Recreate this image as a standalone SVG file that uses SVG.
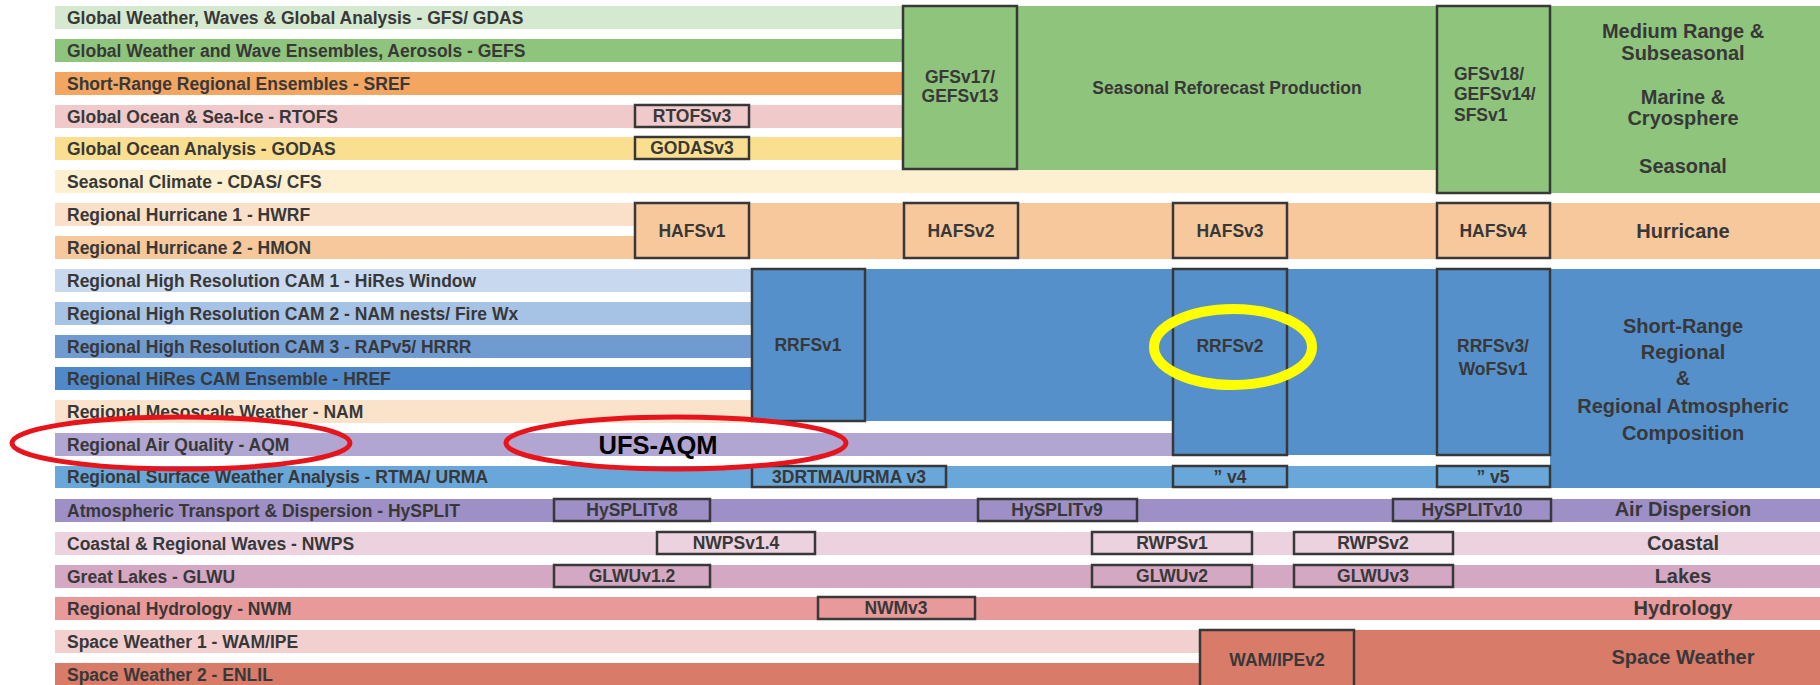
<svg xmlns="http://www.w3.org/2000/svg" width="1820" height="685" viewBox="0 0 1820 685">
<style>
  .lbl{font-family:"Liberation Sans",Arial,sans-serif;font-weight:bold;font-size:17.5px;fill:#383838}
  .box{stroke:#383838;stroke-width:2.5}
  .bt{font-family:"Liberation Sans",Arial,sans-serif;font-weight:bold;font-size:17.5px;fill:#383838;text-anchor:middle}
  .bl{font-family:"Liberation Sans",Arial,sans-serif;font-weight:bold;font-size:17.5px;fill:#383838;text-anchor:start}
  .cat{font-family:"Liberation Sans",Arial,sans-serif;font-weight:bold;font-size:20px;fill:#383838;text-anchor:middle}
  .red{fill:none;stroke:#e8141c;stroke-width:5}
</style>
<rect width="1820" height="685" fill="#ffffff"/>

<!-- Row bands -->
<g id="rows">
  <g id="row-gfs"><rect x="55" y="6" width="848" height="23" fill="#d5e8d0"/><text class="lbl" x="67" y="24">Global Weather, Waves &amp; Global Analysis - GFS/ GDAS</text></g>
  <g id="row-gefs"><rect x="55" y="39" width="848" height="23" fill="#8fc47d"/><text class="lbl" x="67" y="57">Global Weather and Wave Ensembles, Aerosols - GEFS</text></g>
  <g id="row-sref"><rect x="55" y="72" width="848" height="23" fill="#f3a661"/><text class="lbl" x="67" y="90">Short-Range Regional Ensembles - SREF</text></g>
  <g id="row-rtofs"><rect x="55" y="105" width="848" height="23" fill="#f0c9cb"/><text class="lbl" x="67" y="123">Global Ocean &amp; Sea-Ice - RTOFS</text></g>
  <g id="row-godas"><rect x="55" y="137" width="848" height="23" fill="#fbdf90"/><text class="lbl" x="67" y="155">Global Ocean Analysis - GODAS</text></g>
  <g id="row-cfs"><rect x="55" y="170" width="1382" height="23" fill="#fdf0d0"/><text class="lbl" x="67" y="188">Seasonal Climate - CDAS/ CFS</text></g>
  <g id="row-hwrf"><rect x="55" y="203" width="580" height="23" fill="#fae0c8"/><text class="lbl" x="67" y="221">Regional Hurricane 1 - HWRF</text></g>
  <g id="row-hmon"><rect x="55" y="236" width="580" height="23" fill="#f6c89c"/><text class="lbl" x="67" y="254">Regional Hurricane 2 - HMON</text></g>
  <g id="row-cam1"><rect x="55" y="269" width="697" height="23" fill="#c8d9ef"/><text class="lbl" x="67" y="287">Regional High Resolution CAM 1 - HiRes Window</text></g>
  <g id="row-cam2"><rect x="55" y="302" width="697" height="23" fill="#a6c2e5"/><text class="lbl" x="67" y="320">Regional High Resolution CAM 2 - NAM nests/ Fire Wx</text></g>
  <g id="row-cam3"><rect x="55" y="335" width="697" height="23" fill="#6f9bd1"/><text class="lbl" x="67" y="353">Regional High Resolution CAM 3 - RAPv5/ HRRR</text></g>
  <g id="row-href"><rect x="55" y="367" width="697" height="23" fill="#4f89c9"/><text class="lbl" x="67" y="385">Regional HiRes CAM Ensemble - HREF</text></g>
  <g id="row-nam"><rect x="55" y="400" width="697" height="23" fill="#fae2cb"/><text class="lbl" x="67" y="418">Regional Mesoscale Weather - NAM</text></g>
  <g id="row-aqm"><rect x="55" y="433" width="1118" height="23" fill="#b0a6d1"/><text class="lbl" x="67" y="451">Regional Air Quality - AQM</text></g>
  <g id="row-rtma"><rect x="55" y="466" width="1495" height="22" fill="#69a7da"/><text class="lbl" x="67" y="483">Regional Surface Weather Analysis - RTMA/ URMA</text></g>
  <g id="row-hysplit"><rect x="55" y="499" width="1765" height="23" fill="#9e8fc6"/><text class="lbl" x="67" y="517">Atmospheric Transport &amp; Dispersion - HySPLIT</text></g>
  <g id="row-nwps"><rect x="55" y="532" width="1765" height="23" fill="#ebd2de"/><text class="lbl" x="67" y="550">Coastal &amp; Regional Waves - NWPS</text></g>
  <g id="row-glwu"><rect x="55" y="565" width="1765" height="23" fill="#d4a7c2"/><text class="lbl" x="67" y="583">Great Lakes - GLWU</text></g>
  <g id="row-nwm"><rect x="55" y="597" width="1765" height="23" fill="#e8999a"/><text class="lbl" x="67" y="615">Regional Hydrology - NWM</text></g>
  <g id="row-wam"><rect x="55" y="630" width="1145" height="23" fill="#f2d0d0"/><text class="lbl" x="67" y="648">Space Weather 1 - WAM/IPE</text></g>
  <g id="row-enlil"><rect x="55" y="663" width="1145" height="22" fill="#d87b69"/><text class="lbl" x="67" y="681">Space Weather 2 - ENLIL</text></g>
</g>

<!-- Category blocks -->
<g id="block-green">
  <rect x="903" y="6" width="917" height="164" fill="#8fc47d"/>
  <rect x="1437" y="6" width="383" height="187" fill="#8fc47d"/>
  <text class="bt" x="1227" y="94">Seasonal Reforecast Production</text>
  <text class="cat" x="1683" y="38">Medium Range &amp;</text>
  <text class="cat" x="1683" y="60">Subseasonal</text>
  <text class="cat" x="1683" y="104">Marine &amp;</text>
  <text class="cat" x="1683" y="125">Cryosphere</text>
  <text class="cat" x="1683" y="173">Seasonal</text>
</g>
<g id="block-hurricane">
  <rect x="635" y="203" width="1185" height="56" fill="#f6c89c"/>
  <text class="cat" x="1683" y="238">Hurricane</text>
</g>
<g id="block-shortrange">
  <rect x="752" y="269" width="421" height="152" fill="#5590cb"/>
  <rect x="1173" y="269" width="377" height="186" fill="#5590cb"/>
  <rect x="1550" y="269" width="270" height="219" fill="#5590cb"/>
  <text class="cat" x="1683" y="333">Short-Range</text>
  <text class="cat" x="1683" y="359">Regional</text>
  <text class="cat" x="1683" y="385">&amp;</text>
  <text class="cat" x="1683" y="413">Regional Atmospheric</text>
  <text class="cat" x="1683" y="440">Composition</text>
</g>
<g id="block-space">
  <rect x="1200" y="630" width="620" height="55" fill="#d87b69"/>
  <text class="cat" x="1683" y="664">Space Weather</text>
</g>
<g id="cat-labels">
  <text class="cat" x="1683" y="516">Air Dispersion</text>
  <text class="cat" x="1683" y="550">Coastal</text>
  <text class="cat" x="1683" y="583">Lakes</text>
  <text class="cat" x="1683" y="615">Hydrology</text>
</g>

<!-- Version boxes -->
<g id="rtofsv3"><rect class="box" x="635" y="105" width="114" height="22" fill="#f0c9cb"/><text class="bt" x="692" y="122">RTOFSv3</text></g>
<g id="godasv3"><rect class="box" x="635" y="137" width="114" height="22" fill="#fbdf90"/><text class="bt" x="692" y="154">GODASv3</text></g>
<g id="gfsv17"><rect class="box" x="903" y="6" width="114" height="163" fill="#8fc47d"/><text class="bt" x="960" y="83">GFSv17/</text><text class="bt" x="960" y="102">GEFSv13</text></g>
<g id="gfsv18"><rect class="box" x="1437" y="6" width="113" height="187" fill="#8fc47d"/><text class="bl" x="1454" y="80">GFSv18/</text><text class="bl" x="1454" y="100">GEFSv14/</text><text class="bl" x="1454" y="121">SFSv1</text></g>
<g id="hafsv1"><rect class="box" x="635" y="203" width="114" height="55" fill="#f6c89c"/><text class="bt" x="692" y="237">HAFSv1</text></g>
<g id="hafsv2"><rect class="box" x="904" y="203" width="114" height="55" fill="#f6c89c"/><text class="bt" x="961" y="237">HAFSv2</text></g>
<g id="hafsv3"><rect class="box" x="1173" y="203" width="114" height="55" fill="#f6c89c"/><text class="bt" x="1230" y="237">HAFSv3</text></g>
<g id="hafsv4"><rect class="box" x="1437" y="203" width="113" height="55" fill="#f6c89c"/><text class="bt" x="1493" y="237">HAFSv4</text></g>
<g id="rrfsv1"><rect class="box" x="752" y="269" width="113" height="152" fill="#5590cb"/><text class="bt" x="808" y="351">RRFSv1</text></g>
<g id="rrfsv2"><rect class="box" x="1173" y="269" width="114" height="186" fill="#5590cb"/><text class="bt" x="1230" y="352">RRFSv2</text></g>
<g id="rrfsv3"><rect class="box" x="1437" y="269" width="113" height="186" fill="#5590cb"/><text class="bt" x="1493" y="352">RRFSv3/</text><text class="bt" x="1493" y="375">WoFSv1</text></g>
<g id="rtma-v3"><rect class="box" x="752" y="466" width="194" height="21" fill="#69a7da"/><text class="bt" x="849" y="483">3DRTMA/URMA v3</text></g>
<g id="rtma-v4"><rect class="box" x="1173" y="466" width="114" height="21" fill="#69a7da"/><text class="bt" x="1230" y="483">” v4</text></g>
<g id="rtma-v5"><rect class="box" x="1437" y="466" width="113" height="21" fill="#69a7da"/><text class="bt" x="1493" y="483">” v5</text></g>
<g id="hysplitv8"><rect class="box" x="554" y="499" width="156" height="22" fill="#9e8fc6"/><text class="bt" x="632" y="516">HySPLITv8</text></g>
<g id="hysplitv9"><rect class="box" x="978" y="499" width="159" height="22" fill="#9e8fc6"/><text class="bt" x="1057" y="516">HySPLITv9</text></g>
<g id="hysplitv10"><rect class="box" x="1393" y="499" width="158" height="22" fill="#9e8fc6"/><text class="bt" x="1472" y="516">HySPLITv10</text></g>
<g id="nwpsv14"><rect class="box" x="657" y="532" width="158" height="22" fill="#ebd2de"/><text class="bt" x="736" y="549">NWPSv1.4</text></g>
<g id="rwpsv1"><rect class="box" x="1092" y="532" width="160" height="22" fill="#ebd2de"/><text class="bt" x="1172" y="549">RWPSv1</text></g>
<g id="rwpsv2"><rect class="box" x="1294" y="532" width="159" height="22" fill="#ebd2de"/><text class="bt" x="1373" y="549">RWPSv2</text></g>
<g id="glwuv12"><rect class="box" x="554" y="565" width="156" height="22" fill="#d4a7c2"/><text class="bt" x="632" y="582">GLWUv1.2</text></g>
<g id="glwuv2"><rect class="box" x="1092" y="565" width="160" height="22" fill="#d4a7c2"/><text class="bt" x="1172" y="582">GLWUv2</text></g>
<g id="glwuv3"><rect class="box" x="1294" y="565" width="159" height="22" fill="#d4a7c2"/><text class="bt" x="1373" y="582">GLWUv3</text></g>
<g id="nwmv3"><rect class="box" x="818" y="597" width="157" height="22" fill="#e8999a"/><text class="bt" x="896" y="614">NWMv3</text></g>
<g id="wamipev2"><rect class="box" x="1200" y="630" width="154" height="58" fill="#d87b69"/><text class="bt" x="1277" y="666">WAM/IPEv2</text></g>

<!-- Annotations -->
<g id="ufs-aqm"><text x="658" y="454" font-family="'Liberation Sans',Arial,sans-serif" font-weight="bold" font-size="25.5" fill="#000" text-anchor="middle">UFS-AQM</text></g>
<g id="highlights">
  <ellipse class="red" cx="181" cy="443" rx="169" ry="26"/>
  <ellipse class="red" cx="676" cy="443" rx="170" ry="26"/>
  <ellipse cx="1233" cy="347" rx="79" ry="38" fill="none" stroke="#ffff00" stroke-width="10"/>
</g>
<g id="connectors"/>
</svg>
